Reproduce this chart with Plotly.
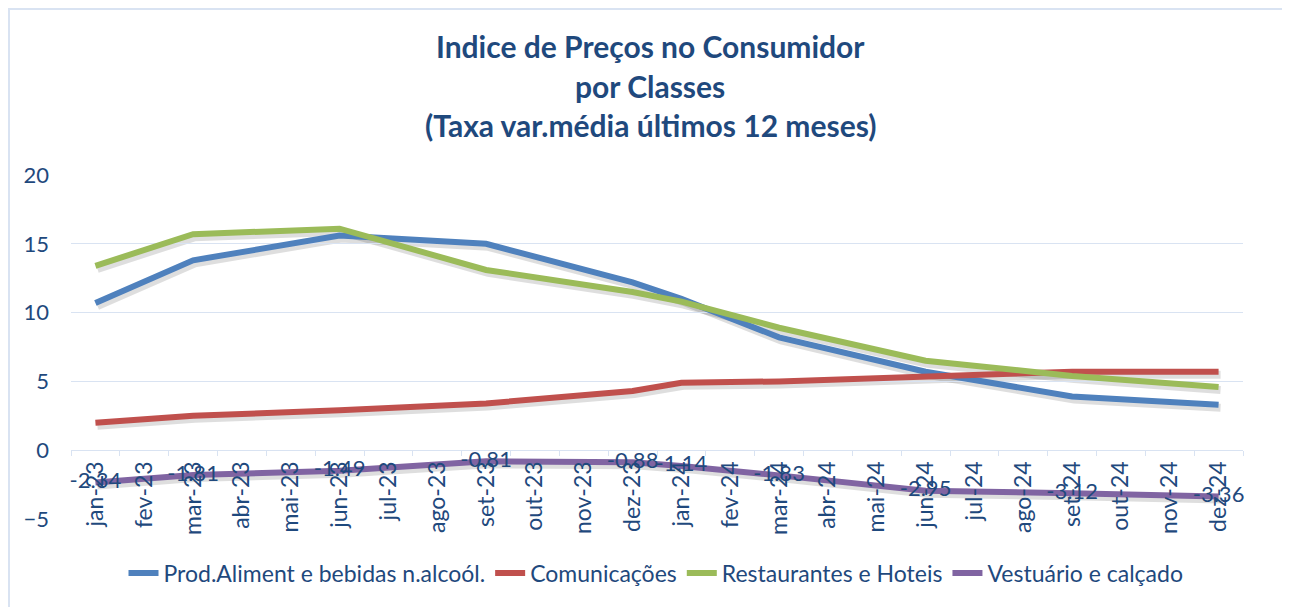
import plotly.graph_objects as go

months = ["jan-23", "fev-23", "mar-23", "abr-23", "mai-23", "jun-23", "jul-23", "ago-23",
          "set-23", "out-23", "nov-23", "dez-23", "jan-24", "fev-24", "mar-24", "abr-24",
          "mai-24", "jun-24", "jul-24", "ago-24", "set-24", "out-24", "nov-24", "dez-24"]

N = None
prod_aliment = [10.7, N, 13.8, N, N, 15.6, N, N, 15.0, N, N, 12.2, 11.0, N, 8.2, N, N, 5.7, N, N, 3.9, N, N, 3.3]
comunicacoes = [2.0, N, 2.5, N, N, 2.9, N, N, 3.4, N, N, 4.3, 4.9, N, 5.0, N, N, 5.3, N, N, 5.7, N, N, 5.7]
restaurantes = [13.4, N, 15.7, N, N, 16.1, N, N, 13.1, N, N, 11.5, 10.8, N, 8.9, N, N, 6.5, N, N, 5.4, N, N, 4.6]
vestuario = [-2.34, N, -1.81, N, N, -1.49, N, N, -0.81, N, N, -0.88, -1.14, N, -1.83, N, N, -2.95, N, N, -3.12, N, N, -3.36]

series_names = ["Prod.Aliment e bebidas n.alcoól.", "Comunicações", "Restaurantes e Hoteis", "Vestuário e calçado"]
colors = ["#4F81BD", "#C0504D", "#9BBB59", "#8064A2"]
all_series = [prod_aliment, comunicacoes, restaurantes, vestuario]

TXT = "#1F497D"
GRID = "#D9E3F2"
FONT = "Lato"

OFF = 8  # page body margin
W, H = 1290, 607
L, R, T, B = 63, 53, 167, 93
pw, ph = W - L - R, H - T - B
SX, SY = 2, 3  # shadow offset in px

def px(xp):
    return (xp - OFF - L) / pw

def py(yp):
    return 1 - (yp - OFF - T) / ph

ymin, ymax = -5, 20
dx, dy = SX / pw, SY / ph
fig = go.Figure()

# soft shadows (drawn on a hidden, slightly offset subplot underneath)
for vals in all_series:
    fig.add_trace(go.Scatter(
        x=months, y=vals, mode="lines", connectgaps=True, showlegend=False, hoverinfo="skip",
        line=dict(color="rgba(0,0,0,0.13)", width=8), xaxis="x", yaxis="y",
    ))

for name, vals, col in zip(series_names, all_series, colors):
    is_v = vals is vestuario
    fig.add_trace(go.Scatter(
        x=months, y=vals, name=name, mode="lines+text" if is_v else "lines",
        connectgaps=True, xaxis="x2", yaxis="y2",
        line=dict(color=col, width=6),
        text=[("" if v is None else f"{v:.2f}") for v in vals] if is_v else None,
        textposition="middle center",
        textfont=dict(family=FONT, size=22, color=TXT),
        cliponaxis=False,
    ))

fig.update_layout(
    width=W, height=H,
    margin=dict(l=L, r=R, t=T, b=B, autoexpand=False),
    paper_bgcolor="white", plot_bgcolor="rgba(0,0,0,0)",
    font=dict(family=FONT, color=TXT),
    showlegend=True,
    legend=dict(orientation="h", x=px(656), xanchor="center", y=py(573), yanchor="middle",
                font=dict(family=FONT, size=23, color=TXT),
                traceorder="normal"),
    xaxis=dict(type="category", categoryorder="array", categoryarray=months, visible=False,
               range=[-0.5, 23.5], domain=[dx, 1], anchor="y"),
    yaxis=dict(range=[ymin, ymax], visible=False, domain=[0, 1 - dy], anchor="x"),
    xaxis2=dict(
        type="category", categoryorder="array", categoryarray=months,
        anchor="free", position=dy + (1 - dy) * (0 - ymin) / (ymax - ymin), domain=[0, 1 - dx],
        showgrid=False, showline=True, linecolor=GRID, linewidth=1,
        ticks="outside", tickson="boundaries", ticklen=5, tickcolor=GRID,
        tickangle=-90, tickfont=dict(family=FONT, size=23, color=TXT),
        ticklabelstandoff=1, range=[-0.5, 23.5],
    ),
    yaxis2=dict(
        range=[ymin, ymax], dtick=5, showgrid=True, gridcolor=GRID, gridwidth=1,
        zeroline=False, showline=False, ticks="", anchor="x2", domain=[dy, 1],
        tickfont=dict(family=FONT, size=22, color=TXT), ticklabelstandoff=21,
    ),
)

title_lines = ["Indice de Preços no Consumidor", "por Classes", "(Taxa var.média últimos 12 meses)"]
title_y = [46, 86, 125]
for t, yp in zip(title_lines, title_y):
    fig.add_annotation(text=f"<b>{t}</b>", x=px(650), y=py(yp), xref="paper", yref="paper",
                       xanchor="center", yanchor="middle", showarrow=False,
                       font=dict(family=FONT, size=30, color=TXT))

# chart border (left and top edges)
fig.add_shape(type="line", xref="paper", yref="paper", x0=px(9), x1=px(9), y0=py(620), y1=py(5),
              line=dict(color=GRID, width=2))
fig.add_shape(type="line", xref="paper", yref="paper", x0=px(9), x1=px(1300), y0=py(9), y1=py(9),
              line=dict(color=GRID, width=2))

fig.write_html("out.html")
